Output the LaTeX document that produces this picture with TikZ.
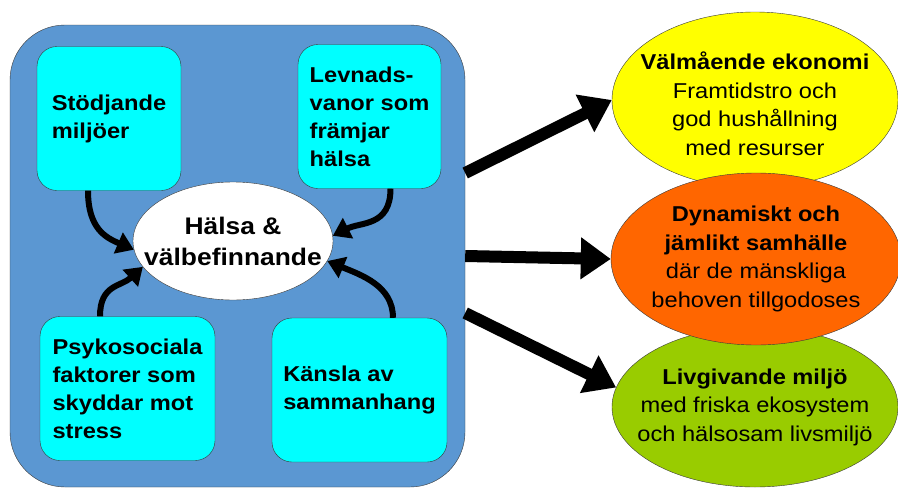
\documentclass[tikz,border=0pt]{standalone}
\usepackage{fontspec}
\setmainfont{Liberation Sans}[FakeStretch=1.1]
\usetikzlibrary{shapes.geometric,arrows.meta}

\definecolor{frameblue}{HTML}{5B97D2}
\definecolor{boxcyan}{HTML}{00FFFF}
\definecolor{ecoyellow}{HTML}{FFFF00}
\definecolor{socorange}{HTML}{FF6600}
\definecolor{envgreen}{HTML}{99CC00}
\definecolor{edgegray}{HTML}{3A3A3A}

\tikzset{
  factor/.style={draw=edgegray,fill=boxcyan,rounded corners=20pt,align=left,
    font=\bfseries\fontsize{21.5}{28}\selectfont,minimum width=#1,minimum height=144pt,inner sep=0pt},
  goal/.style={ellipse,draw=edgegray,fill=#1,inner sep=0pt},
  goaltext/.style={align=center,inner sep=0pt,font=\fontsize{21.5}{28.5}\selectfont},
  inflow/.style={line width=6pt,-{Triangle[length=17pt,width=22pt]}},
  outflow/.style={line width=12pt,-{Triangle[length=30pt,width=40pt]}}
}

\begin{document}
\begin{tikzpicture}[x=1pt,y=-1pt]
  \useasboundingbox (0,0) rectangle (898,490);

  \node[draw=edgegray,fill=frameblue,rounded corners=55pt,minimum width=455pt,minimum height=462pt] (frame) at (237.5,256) {};

  \node[factor=144pt] (support) at (109,118.5) {Stödjande\\miljöer};
  \node[factor=143pt] (habits) at (369.5,116.5) {Levnads-\\vanor som\\främjar\\hälsa};
  \node[factor=175pt] (stress) at (127.5,388.5) {Psykosociala\\faktorer som\\skyddar mot\\stress};
  \node[factor=175pt] (coherence) at (359.5,390) {Känsla av\\sammanhang};

  \node[goal=white,minimum width=200pt,minimum height=118pt] (health) at (233,241) {};
  \node[goaltext,font=\bfseries\fontsize{24}{31}\selectfont] (healthtext) at (health) {Hälsa \&\\välbefinnande};

  \draw[inflow] ([xshift=-21pt]support.south) .. controls +(0,38) and +(-28,-12) .. (health.185);
  \draw[inflow] ([xshift=21pt]habits.south) .. controls +(0,38) and +(28,-14) .. (health.3);
  \draw[inflow] ([xshift=-27.5pt]stress.north) .. controls +(0,-32) and +(-22,20) .. (health.196);
  \draw[inflow] ([xshift=33.5pt]coherence.north) .. controls +(0,-32) and +(34,14) .. (health.348);

  \node[goal=ecoyellow,minimum width=286pt,minimum height=176pt] (economy) at (755,100) {};
  \node[goaltext] (economytext) at (755,104)
    {\textbf{Välmående ekonomi}\\Framtidstro och\\god hushållning\\med resurser};
  \node[goal=envgreen,minimum width=286pt,minimum height=160pt] (environment) at (755,407) {};
  \node[goaltext] (environmenttext) at (environment)
    {\textbf{Livgivande miljö}\\med friska ekosystem\\och hälsosam livsmiljö};
  \node[goal=socorange,minimum width=290pt,minimum height=172pt] (society) at (756,259) {};
  \node[goaltext] (societytext) at (society)
    {\textbf{Dynamiskt och}\\\textbf{jämlikt samhälle}\\där de mänskliga\\behoven tillgodoses};

  \coordinate (upper) at ([yshift=83pt]frame.east);
  \coordinate (lower) at ([yshift=-57pt]frame.east);
  \draw[outflow] (upper) -- (economy.west);
  \draw[outflow] (frame.east) -- (society.west);
  \draw[outflow] (lower) -- (environment.172);
\end{tikzpicture}
\end{document}
